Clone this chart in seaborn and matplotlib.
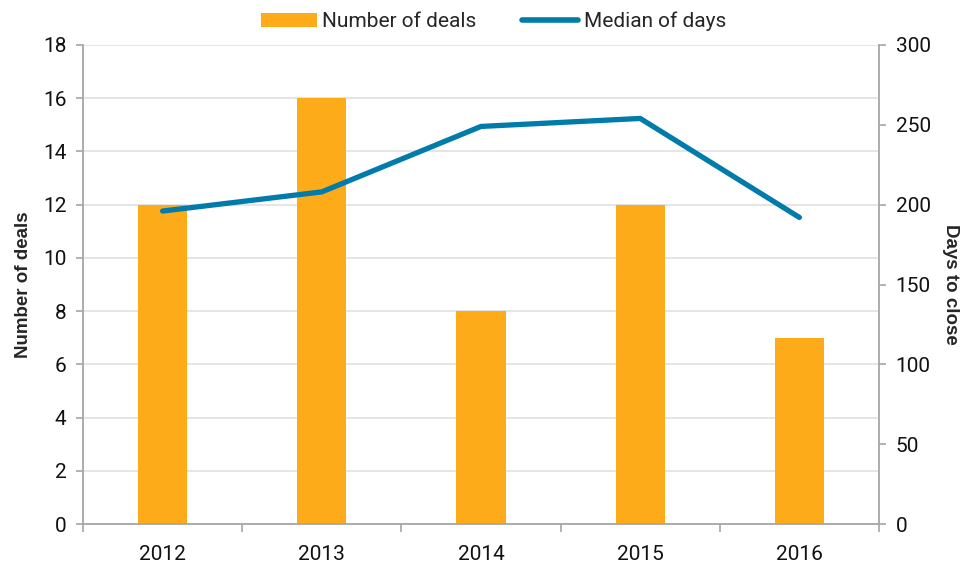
import matplotlib
matplotlib.use("Agg")
import matplotlib.pyplot as plt
import seaborn as sns
import numpy as np
import pandas as pd
from matplotlib.patches import Patch
from matplotlib.lines import Line2D

years = ["2012", "2013", "2014", "2015", "2016"]
deals = [12, 16, 8, 12, 7]
median_days = [196, 208, 249, 254, 192]

BAR_COLOR = "#FDAB18"
LINE_COLOR = "#007BAA"
GRID = "#E0E0E0"
SPINE = "#A6A6A6"

sns.set_theme(style="white")
plt.rcParams['font.family'] = ['Roboto', 'DejaVu Sans']

fig = plt.figure(figsize=(9.67, 5.65), dpi=100)
ax = fig.add_axes([83/967, 41/565, (879-83)/967, (524-45)/565])

df = pd.DataFrame({"year": years, "deals": deals, "days": median_days})
sns.barplot(data=df, x="year", y="deals", color=BAR_COLOR, width=0.31,
            saturation=1, ax=ax, zorder=2, linewidth=0)
ax.set_ylim(0, 18)
ax.set_yticks(range(0, 19, 2))
ax.set_xlim(-0.5, 4.5)
ax.yaxis.grid(True, color=GRID, linewidth=1.2, zorder=0)
ax.set_axisbelow(True)
ax.set_xlabel("")
ax.set_ylabel("Number of deals", fontsize=13.5, fontweight="bold",
              family=["Liberation Sans", "DejaVu Sans"], labelpad=8)

for s in ["top", "right"]:
    ax.spines[s].set_visible(False)
for s in ["left", "bottom"]:
    ax.spines[s].set_color(SPINE)
    ax.spines[s].set_linewidth(1.3)

ax.tick_params(axis="y", which="major", left=True, length=5, width=1.2,
               color=SPINE, labelsize=15, pad=7, labelcolor="#111111")
ax.tick_params(axis="x", which="major", bottom=False, labelsize=15, pad=9,
               labelcolor="#111111")
ax.set_xticks(np.arange(-0.5, 5.0, 1.0), minor=True)
ax.tick_params(axis="x", which="minor", bottom=True, length=6, width=1.2,
               color=SPINE)

ax2 = ax.twinx()
sns.lineplot(x=np.arange(len(years)), y=median_days, color=LINE_COLOR,
             linewidth=3.8, ax=ax2, solid_capstyle="round", zorder=3)
ax2.set_ylim(0, 300)
ax2.set_yticks(range(0, 301, 50))
ax2.set_xlim(-0.5, 4.5)
ax2.set_ylabel("Days to close", fontsize=13.5, fontweight="bold",
               family=["Liberation Sans", "DejaVu Sans"], rotation=-90,
               labelpad=20)
for s in ["top", "left", "bottom"]:
    ax2.spines[s].set_visible(False)
ax2.spines["right"].set_color(SPINE)
ax2.spines["right"].set_linewidth(1.3)
ax2.tick_params(axis="y", right=True, length=5, width=1.2, color=SPINE,
                labelsize=15, pad=7, labelcolor="#111111")

handles = [Patch(facecolor=BAR_COLOR, edgecolor="none"),
           Line2D([0], [0], color=LINE_COLOR, linewidth=4, solid_capstyle="round")]
fig.legend(handles, ["Number of deals", "Median of days"], loc="center",
           bbox_to_anchor=(0.51, 0.962), ncol=2, frameon=False,
           fontsize=15, handlelength=2.7, handletextpad=0.25,
           columnspacing=2.2)

fig.savefig("out.png", dpi=100)
